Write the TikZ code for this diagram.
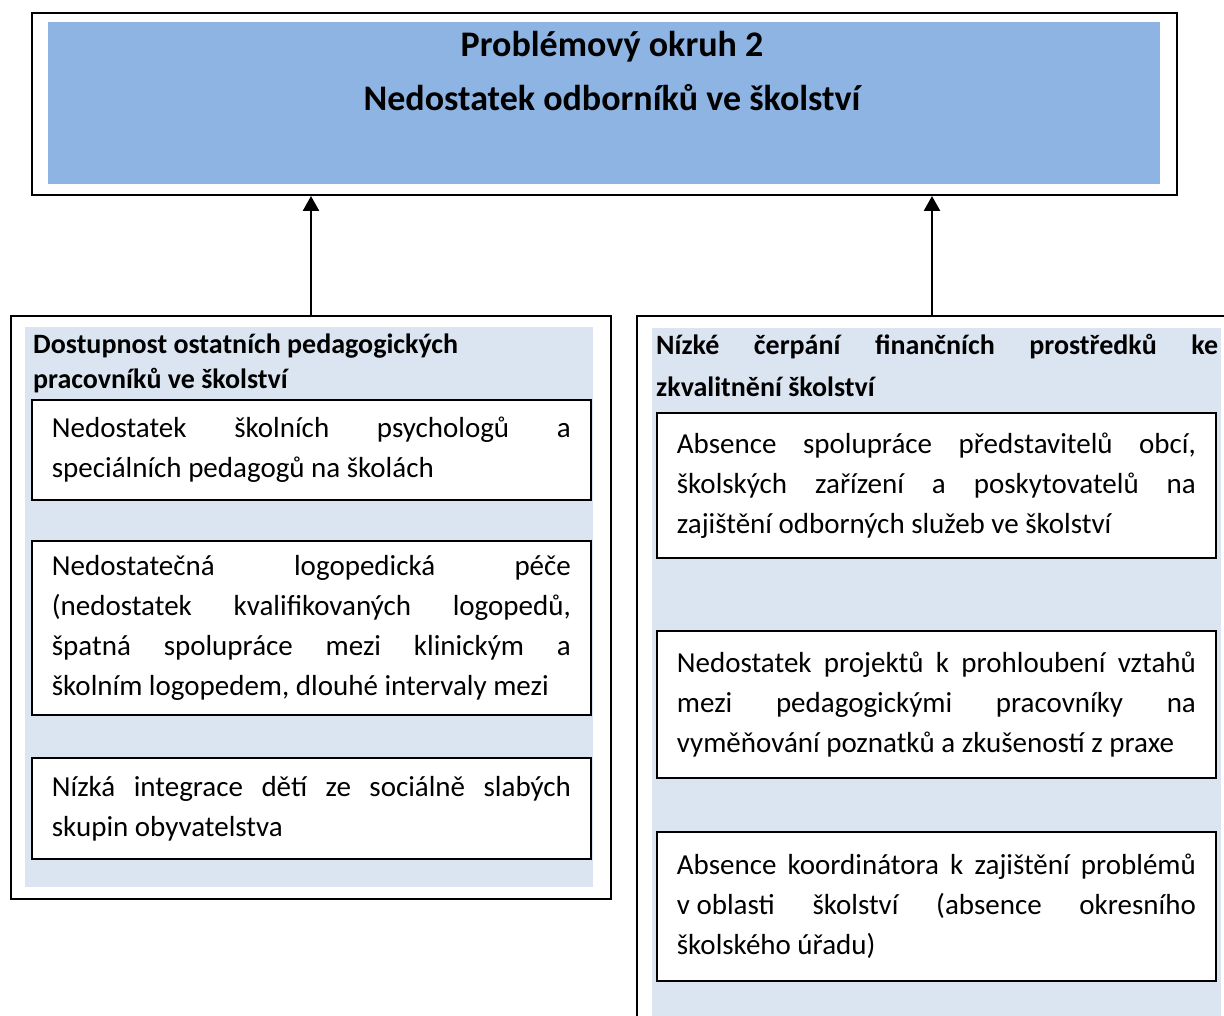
\documentclass[tikz,border=0pt]{standalone}
\usepackage{fontspec}
\setmainfont{Carlito}
\usetikzlibrary{arrows.meta}
\usetikzlibrary{calc}
\definecolor{headblue}{RGB}{141,180,227}
\definecolor{paleblue}{RGB}{219,229,241}

\begin{document}
\begin{tikzpicture}[x=1pt,y=-1pt,
  frame/.style={shape=rectangle,draw,line width=2pt,anchor=north west,inner sep=0pt},
  shade/.style={shape=rectangle,fill=#1,anchor=north west,inner sep=0pt},
  item/.style={shape=rectangle,draw,fill=white,line width=1.8pt,anchor=north west,text width=519pt,inner xsep=20pt,inner ysep=0pt,align=justify,font=\fontsize{29}{40}\selectfont},
  head/.style={anchor=north west,inner sep=0pt,font=\bfseries\fontsize{28}{35}\selectfont},
  up arrow/.style={line width=2.5pt,-{Triangle[length=15pt,width=16pt]}}]
\path[use as bounding box,clip] (0,0) rectangle (1224,1016);
\draw (31,12) node (top) [frame,minimum width=1145pt,minimum height=182pt] {};
\draw (48,22) node (topfill) [shade=headblue,minimum width=1112pt,minimum height=162pt] {};
\draw (612,28) node (title) [anchor=north,align=center,font=\bfseries\fontsize{36}{54}\selectfont] {Problémový okruh 2\\Nedostatek odborníků ve školství};
\draw (10,315) node (lp) [frame,minimum width=600pt,minimum height=583pt] {};
\draw (25,327) node (lpfill) [shade=paleblue,minimum width=568pt,minimum height=560pt] {};
\draw (33,334) node (lhead) [head,align=left] {Dostupnost ostatních pedagogických\\pracovníků ve školství};
\draw (31,399) node (l1) [item,minimum height=100pt] {Nedostatek školních psychologů a\linebreak speciálních pedagogů na školách};
\draw (31,540) node (l2) [item,minimum height=174pt] {\parfillskip=0pt Nedostatečná logopedická péče\linebreak (nedostatek kvalifikovaných logopedů,\linebreak špatná spolupráce mezi klinickým a\linebreak školním logopedem, dlouhé intervaly mezi};
\draw (31,757) node (l3) [item,minimum height=101pt] {Nízká integrace dětí ze sociálně slabých\linebreak skupin obyvatelstva};
\draw (636,315) node (rp) [frame,minimum width=590pt,minimum height=715pt] {};
\draw (652,328) node (rpfill) [shade=paleblue,minimum width=569pt,minimum height=700pt] {};
\draw (656,334) node (rhead) [head,text width=562pt,align=justify,font=\bfseries\fontsize{28}{42}\selectfont] {Nízké čerpání finančních prostředků ke\linebreak zkvalitnění školství};
\draw (656,412) node (r1) [item,minimum height=145pt] {Absence spolupráce představitelů obcí,\linebreak školských zařízení a poskytovatelů na\linebreak zajištění odborných služeb ve školství};
\draw (656,630) node (r2) [item,minimum height=147pt] {Nedostatek projektů k prohloubení vztahů\linebreak mezi pedagogickými pracovníky na\linebreak vyměňování poznatků a zkušeností z praxe};
\draw (656,831) node (r3) [item,minimum height=149pt] {Absence koordinátora k zajištění problémů\linebreak \mbox{v oblasti} školství (absence okresního\linebreak školského úřadu)};
\draw[up arrow] (lp.north) -- (lp.north |- top.south);
\draw[up arrow] (rp.north) -- (rp.north |- top.south);
\end{tikzpicture}
\end{document}
